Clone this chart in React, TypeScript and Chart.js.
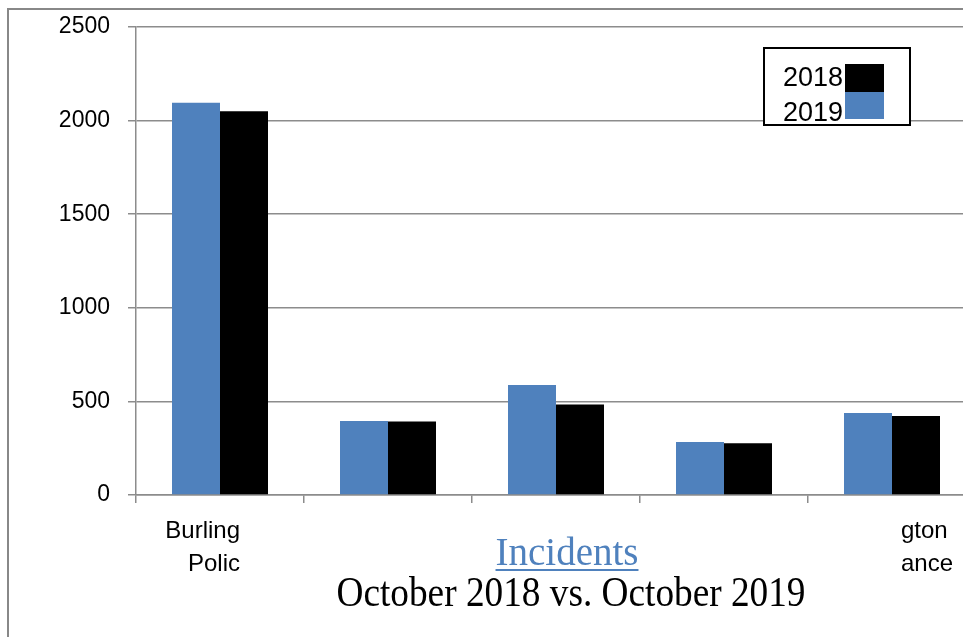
import React, { useEffect, useRef } from "react";
import { Chart, registerables } from "chart.js";

Chart.register(...registerables);

// ---- data ----
const categories: string[][] = [["Burling", "Polic"], [""], [""], [""], ["gton", "ance"]];
const labelAlign: ("right" | "left")[] = ["right", "left", "left", "left", "left"];
const values2019 = [2095, 395, 588, 283, 438];
const values2018 = [2050, 392, 484, 276, 422];
const seriesNames = ["2019", "2018"];
const yTicks = [0, 500, 1000, 1500, 2000, 2500];
const titleLine1 = "Incidents";
const titleLine2 = "October 2018 vs. October 2019";

const BLUE = "#4f81bd";
const BLACK = "#000000";
const GRAY = "#8c8c8c";
const W = 1050;
const H = 637;

const overlay = {
  id: "overlay",
  afterDraw(chart: any) {
    const ctx = chart.ctx;
    const xs = chart.scales.x;
    ctx.save();
    // outer border
    ctx.strokeStyle = "#888888";
    ctx.lineWidth = 2;
    ctx.beginPath();
    ctx.moveTo(8, H);
    ctx.lineTo(8, 9);
    ctx.lineTo(W, 9);
    ctx.stroke();

    // x labels
    ctx.fillStyle = "#000";
    ctx.font = "24px 'Liberation Sans'";
    ctx.textBaseline = "alphabetic";
    categories.forEach((lines, i) => {
      const cx = xs.getPixelForValue(i);
      const al = labelAlign[i];
      ctx.textAlign = al;
      const x = al === "right" ? cx + 20 : cx + 9;
      lines.forEach((t, j) => {
        ctx.fillText(t, x, 538 + j * 33);
      });
    });

    // legend
    ctx.fillStyle = "#fff";
    ctx.fillRect(764, 48, 146, 77);
    ctx.strokeStyle = "#000";
    ctx.lineWidth = 2;
    ctx.strokeRect(764, 48, 146, 77);
    ctx.fillStyle = BLACK;
    ctx.fillRect(845, 64, 39, 28);
    ctx.fillStyle = BLUE;
    ctx.fillRect(845, 92, 39, 27);
    ctx.fillStyle = "#000";
    ctx.font = "27px 'Liberation Sans'";
    ctx.textAlign = "right";
    ctx.fillText(seriesNames[1], 843, 86);
    ctx.fillText(seriesNames[0], 843, 121);

    // title
    ctx.textAlign = "center";
    ctx.fillStyle = BLUE;
    ctx.font = "39px 'Liberation Serif'";
    ctx.fillText(titleLine1, 567, 565, 147);
    const w1 = Math.min(147, ctx.measureText(titleLine1).width);
    ctx.fillRect(567 - w1 / 2, 569, w1, 2);
    ctx.fillStyle = "#000";
    ctx.font = "42px 'Liberation Serif'";
    ctx.fillText(titleLine2, 571, 606, 469);
    ctx.restore();
  },
};

export default function App() {
  const ref = useRef<HTMLCanvasElement>(null);
  useEffect(() => {
    if (!ref.current) return;
    const chart = new Chart(ref.current, {
      type: "bar",
      data: {
        labels: categories.map((c) => c.join(" ")),
        datasets: [
          {
            label: seriesNames[0],
            data: values2019,
            backgroundColor: BLUE,
            categoryPercentage: 96 / 168,
            barPercentage: 1,
          },
          {
            label: seriesNames[1],
            data: values2018,
            backgroundColor: BLACK,
            categoryPercentage: 96 / 168,
            barPercentage: 1,
          },
        ],
      },
      options: {
        responsive: false,
        animation: false,
        layout: { padding: { left: 0, top: 27, right: W - 976, bottom: 0 } },
        plugins: {
          legend: { display: false },
          title: { display: false },
          tooltip: { enabled: false },
        },
        scales: {
          x: {
            offset: true,
            grid: {
              offset: true,
              drawOnChartArea: false,
              drawTicks: true,
              tickLength: 8,
              color: GRAY,
              lineWidth: 1.5,
            },
            border: { color: GRAY, width: 1.5 },
            ticks: { display: false },
            afterFit: (s: any) => {
              s.height = H - 495;
              s.paddingLeft = 0;
              s.paddingRight = 0;
            },
          },
          y: {
            min: 0,
            max: 2500,
            afterBuildTicks: (s: any) => {
              s.ticks = yTicks.map((v) => ({ value: v }));
            },
            ticks: {
              color: "#000",
              padding: 18,
              font: { family: "'Liberation Sans'", size: 23 },
              callback: (v: any) => String(v),
            },
            grid: { color: GRAY, lineWidth: 1.5, tickLength: 8 },
            border: { color: GRAY, width: 1.5 },
            afterFit: (s: any) => {
              s.width = 136;
              s.paddingTop = 0;
              s.paddingBottom = 0;
            },
          },
        },
      },
      plugins: [overlay],
    });
    return () => chart.destroy();
  }, []);
  return (
    <div style={{ position: "fixed", left: 0, top: 0, width: 963, height: 637, overflow: "hidden", background: "#fff" }}>
      <canvas ref={ref} width={W} height={H} style={{ display: "block" }} />
    </div>
  );
}
